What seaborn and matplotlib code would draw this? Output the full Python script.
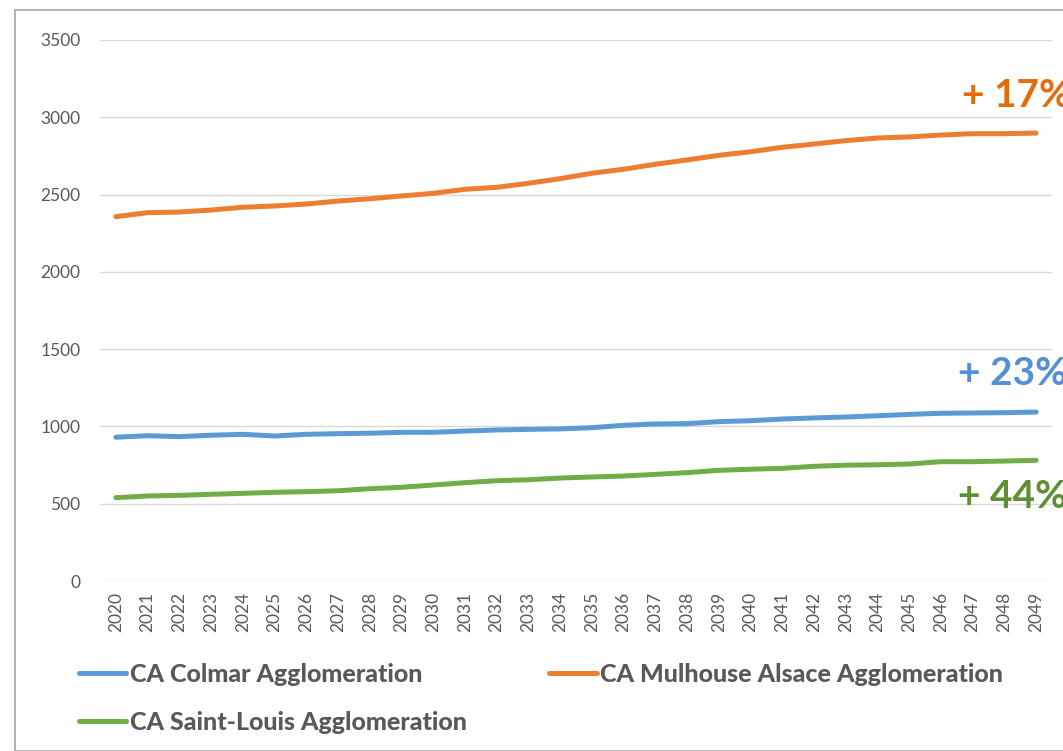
import numpy as np
import pandas as pd
import seaborn as sns
import matplotlib.pyplot as plt
from matplotlib.lines import Line2D
from matplotlib.patches import Rectangle

years = [str(y) for y in range(2020, 2050)]
colmar = [930, 940, 934, 943, 949, 938, 949, 953, 956, 962,
          962, 970, 977, 981, 984, 992, 1007, 1016, 1018, 1031,
          1037, 1048, 1055, 1061, 1069, 1078, 1085, 1087, 1089, 1093]
mulhouse = [2357, 2383, 2387, 2400, 2418, 2426, 2439, 2458, 2473, 2491,
            2508, 2534, 2547, 2573, 2603, 2638, 2664, 2696, 2724, 2754,
            2777, 2806, 2827, 2849, 2866, 2873, 2885, 2894, 2894, 2898]
saint_louis = [539, 550, 554, 561, 567, 574, 578, 584, 597, 606,
               621, 636, 649, 655, 666, 673, 679, 690, 701, 716,
               723, 729, 742, 749, 752, 757, 772, 772, 776, 781]
names = ["CA Colmar Agglomeration", "CA Mulhouse Alsace Agglomeration",
         "CA Saint-Louis Agglomeration"]
colors = ["#5B9BD5", "#ED7D31", "#70AD47"]

df = pd.DataFrame({"annee": years * 3,
                   "valeur": colmar + mulhouse + saint_louis,
                   "serie": np.repeat(names, len(years))})

sns.set_style("white")
plt.rcParams['font.family'] = ['Lato', 'DejaVu Sans']

fig = plt.figure(figsize=(10.63, 7.51), dpi=100)
ax = fig.add_axes([100/1063, (751-581)/751, (1052-100)/1063, 541/751])

sns.lineplot(data=df, x="annee", y="valeur", hue="serie", palette=colors,
             linewidth=3.6, ax=ax, legend=False, sort=False)
for l in ax.lines:
    l.set_solid_capstyle("round")

ax.set_xlim(-0.5, len(years) - 0.5)
ax.set_ylim(0, 3500)
ax.set_yticks(range(0, 3501, 500))
ax.grid(axis="y", color="#D9D9D9", linewidth=1)
ax.set_axisbelow(True)
for s in ax.spines.values():
    s.set_visible(False)
ax.set_xlabel("")
ax.set_ylabel("")
ax.tick_params(axis="x", rotation=90, labelsize=12.5, colors="#595959", length=0, pad=8)
ax.tick_params(axis="y", labelsize=12.5, colors="#595959", length=0, pad=14)

# pourcentages (couleurs comme dans l'original)
ax.text(26.65, 3140, "+ 17%", color="#E46C0A", fontsize=28, fontweight="bold",
        va="center", ha="left", clip_on=False)
ax.text(26.55, 1340, "+ 23%", color="#558ED5", fontsize=28, fontweight="bold",
        va="center", ha="left", clip_on=False)
ax.text(26.55, 545, "+ 44%", color="#5F8F32", fontsize=28, fontweight="bold",
        va="center", ha="left", clip_on=False)

handles = [Line2D([], [], color=c, linewidth=3.6, solid_capstyle="round") for c in colors]
order = [0, 2, 1]
fig.legend([handles[i] for i in order], [names[i] for i in order], ncol=2,
           loc="upper left", bbox_to_anchor=(56/1063, 1 - 640/751), frameon=False,
           prop={"family": "Lato", "size": 18, "weight": "black"}, labelcolor="#595959",
           handlelength=1.9, handletextpad=0.15, columnspacing=3.3, labelspacing=1.0)

fig.patches.append(Rectangle((15/1063, 0), 1.5, (751-10)/751, transform=fig.transFigure,
                             fill=False, edgecolor="#A6A6A6", linewidth=1.2))

fig.savefig("out.png", dpi=100)
